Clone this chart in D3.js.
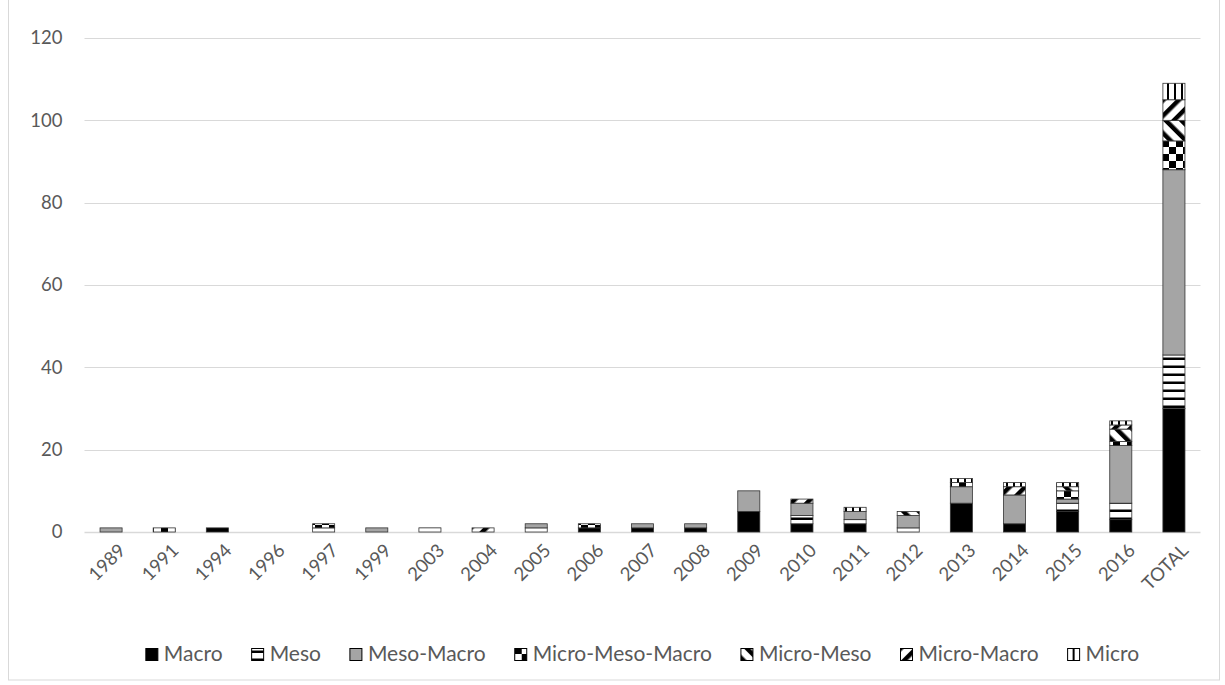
<!DOCTYPE html>
<html>
<head>
<meta charset="utf-8">
<script src="https://cdn.jsdelivr.net/npm/d3@7"></script>
<style>
  body { margin: 0; background: #fff; }
  text { font-family: Lato, "Open Sans", sans-serif; fill: #595959; }
</style>
</head>
<body>
<div id="chart-area"></div>
<script>
const categories = ["1989", "1991", "1994", "1996", "1997", "1999", "2003", "2004", "2005", "2006",
  "2007", "2008", "2009", "2010", "2011", "2012", "2013", "2014", "2015", "2016", "TOTAL"]

const macro          = [0, 0, 1, 0, 0, 0, 0, 0, 0, 1, 1, 1, 5, 2, 2, 0, 7, 2, 5, 3, 30]
const meso           = [0, 0, 0, 0, 1, 0, 1, 0, 1, 0, 0, 0, 0, 2, 1, 1, 0, 0, 2, 4, 13]
const mesoMacro      = [1, 0, 0, 0, 0, 1, 0, 0, 1, 0, 1, 1, 5, 3, 2, 3, 4, 7, 1, 14, 45]
const microMesoMacro = [0, 1, 0, 0, 1, 0, 0, 0, 0, 1, 0, 0, 0, 0, 0, 0, 1, 0, 2, 1, 7]
const microMeso      = [0, 0, 0, 0, 0, 0, 0, 0, 0, 0, 0, 0, 0, 0, 0, 1, 0, 0, 1, 3, 5]
const microMacro     = [0, 0, 0, 0, 0, 0, 0, 1, 0, 0, 0, 0, 0, 1, 0, 0, 0, 2, 0, 1, 5]
const micro          = [0, 0, 0, 0, 0, 0, 0, 0, 0, 0, 0, 0, 0, 0, 1, 0, 1, 1, 1, 1, 4]

const seriesNames = ["Macro", "Meso", "Meso-Macro", "Micro-Meso-Macro", "Micro-Meso", "Micro-Macro", "Micro"]
const seriesValues = [macro, meso, mesoMacro, microMesoMacro, microMeso, microMacro, micro]
const yTicks = [0, 20, 40, 60, 80, 100, 120]

const W = 1225, H = 685
const PLOT = { LEFT: 84.5, RIGHT: 1200.5, TOP: 38, BOTTOM: 532 }

const svg = d3.select("#chart-area").append("svg")
  .attr("width", W)
  .attr("height", H)

// fill patterns
const defs = svg.append("defs")
const fills = ["#000", "url(#p-meso)", "#a5a5a5", "url(#p-mmm)", "url(#p-mime)", "url(#p-mima)", "url(#p-micro)"]

const pMeso = defs.append("pattern").attr("id", "p-meso")
  .attr("patternUnits", "userSpaceOnUse").attr("width", 8).attr("height", 8)
pMeso.append("rect").attr("width", 8).attr("height", 8).attr("fill", "#fff")
pMeso.append("rect").attr("y", 5.5).attr("width", 8).attr("height", 2.5).attr("fill", "#000")

const pMmm = defs.append("pattern").attr("id", "p-mmm")
  .attr("patternUnits", "userSpaceOnUse").attr("width", 14).attr("height", 14)
pMmm.append("rect").attr("width", 14).attr("height", 14).attr("fill", "#fff")
pMmm.append("rect").attr("width", 7).attr("height", 7).attr("fill", "#000")
pMmm.append("rect").attr("x", 7).attr("y", 7).attr("width", 7).attr("height", 7).attr("fill", "#000")

function stripes(id, angle) {
  const p = defs.append("pattern").attr("id", id)
    .attr("patternUnits", "userSpaceOnUse").attr("width", 11).attr("height", 11)
    .attr("patternTransform", `rotate(${angle})`)
  p.append("rect").attr("width", 11).attr("height", 11).attr("fill", "#fff")
  p.append("rect").attr("width", 4.5).attr("height", 11).attr("fill", "#000")
}
stripes("p-mime", -45)
stripes("p-mima", 45)

const pMicro = defs.append("pattern").attr("id", "p-micro")
  .attr("patternUnits", "userSpaceOnUse").attr("width", 7).attr("height", 7)
pMicro.append("rect").attr("width", 7).attr("height", 7).attr("fill", "#fff")
pMicro.append("rect").attr("x", 5).attr("width", 2).attr("height", 7).attr("fill", "#000")

// chart area border
svg.append("rect")
  .attr("x", 8.5).attr("y", -2)
  .attr("width", 1211).attr("height", 682)
  .attr("fill", "none")
  .attr("stroke", "#d9d9d9")

const x = d3.scaleBand()
  .domain(categories)
  .range([PLOT.LEFT, PLOT.RIGHT])
  .paddingInner(0.585)
  .paddingOuter(0.2925)

const y = d3.scaleLinear()
  .domain([0, 120])
  .range([PLOT.BOTTOM, PLOT.TOP])

// gridlines
svg.append("g")
  .selectAll("line")
  .data(yTicks)
  .enter().append("line")
    .attr("x1", PLOT.LEFT)
    .attr("x2", PLOT.RIGHT)
    .attr("y1", d => Math.round(y(d)) + 0.5)
    .attr("y2", d => Math.round(y(d)) + 0.5)
    .attr("stroke", "#d9d9d9")
    .attr("stroke-width", d => d === 0 ? 1.5 : 1)

// Y axis labels
const yAxisCall = d3.axisLeft(y).tickValues(yTicks).tickSize(0).tickPadding(22)
const yAxisGroup = svg.append("g")
  .attr("transform", `translate(${PLOT.LEFT}, 0)`)
  .call(yAxisCall)
yAxisGroup.select(".domain").remove()
yAxisGroup.selectAll("text")
  .attr("font-size", "18.5px")
  .attr("font-family", "Lato, sans-serif")
  .attr("fill", "#595959")

// stacked bars
const table = categories.map((c, i) => {
  const row = { cat: c }
  seriesNames.forEach((s, j) => { row[s] = seriesValues[j][i] })
  return row
})
const stacked = d3.stack().keys(seriesNames)(table)

const layers = svg.append("g").selectAll("g")
  .data(stacked)
  .enter().append("g")
    .attr("fill", (d, i) => fills[i])

layers.selectAll("rect")
  .data(d => d.filter(p => p[1] - p[0] > 0))
  .enter().append("rect")
    .attr("x", d => x(d.data.cat))
    .attr("y", d => y(d[1]))
    .attr("width", x.bandwidth())
    .attr("height", d => y(d[0]) - y(d[1]))
    .attr("stroke", "#333")
    .attr("stroke-width", 0.8)

// X labels
svg.append("g").selectAll("text")
  .data(categories)
  .enter().append("text")
    .attr("transform", d => `translate(${x(d) + x.bandwidth() / 2 + 11}, 547) rotate(-45)`)
    .attr("text-anchor", "end")
    .attr("dy", "0.35em")
    .attr("font-size", "18.5px")
    .text(d => d)

// Legend
const legend = svg.append("g")
const items = legend.selectAll("g")
  .data(seriesNames)
  .enter().append("g")
items.append("rect")
  .attr("width", 12).attr("height", 12)
  .attr("y", -12.5)
  .attr("fill", (d, i) => fills[i])
  .attr("stroke", "#000")
  .attr("stroke-width", 1)
items.append("text")
  .attr("x", 18)
  .attr("font-size", "21px")
  .text(d => d)

let cursor = 0
const gap = 29
items.each(function () {
  const w = 18 + this.querySelector("text").getComputedTextLength()
  d3.select(this).attr("transform", `translate(${cursor}, 0)`)
  cursor += w + gap
})
const legendWidth = cursor - gap
legend.attr("transform", `translate(${(PLOT.LEFT + PLOT.RIGHT) / 2 - legendWidth / 2}, 661)`)
</script>
</body>
</html>
